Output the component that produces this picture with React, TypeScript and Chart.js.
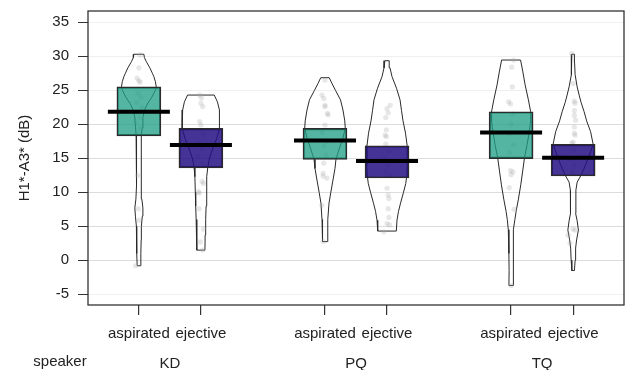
import React, { useEffect, useRef } from "react";
import Chart from "chart.js/auto";

// ---- data ----
const speakers = ["KD", "PQ", "TQ"];
const stopTypes = ["aspirated", "ejective"];
const groupPositions = [1, 2, 4, 5, 7, 8];
const speakerPositions = [1.5, 4.5, 7.5];
const yTicks = [-5, 0, 5, 10, 15, 20, 25, 30, 35];
const yTitle = "H1*-A3* (dB)";
const groupLabel = "speaker";

const means = [21.85, 16.95, 17.6, 14.6, 18.8, 15.1];
const bandLow = [18.3, 13.6, 14.85, 12.1, 14.95, 12.4];
const bandHigh = [25.5, 19.4, 19.4, 16.85, 21.85, 17.05];

// bean (density) profiles: [value, half width in category units]
const beanKDasp = [[-0.8,0.027],[1,0.032],[3,0.037],[5,0.04],[6.5,0.056],[7.7,0.065],[9,0.048],[11,0.037],[13,0.037],[15,0.037],[17,0.04],[18.3,0.045],[19.5,0.053],[21,0.065],[22.1,0.092],[23,0.137],[24,0.21],[25,0.266],[25.6,0.279],[26.3,0.266],[27,0.242],[27.5,0.218],[28.3,0.177],[29.2,0.121],[29.8,0.089],[30.3,0.081]];
const beanKDej = [[1.5,0.065],[3.7,0.068],[6,0.077],[8,0.084],[10,0.09],[12.3,0.097],[13.6,0.11],[15,0.137],[16.5,0.194],[18,0.258],[19.4,0.302],[20.5,0.303],[22.1,0.294],[23.3,0.266],[24.3,0.215]];
const beanPQasp = [[2.75,0.037],[4.5,0.042],[6,0.048],[8.4,0.065],[10,0.094],[11.8,0.129],[13.5,0.161],[14.85,0.177],[16.5,0.234],[18,0.29],[19.4,0.327],[20.5,0.319],[22.1,0.29],[23.6,0.25],[25,0.169],[26,0.113],[26.85,0.068]];
const beanPQej = [[4.3,0.15],[5.9,0.161],[7.2,0.185],[8.4,0.218],[10,0.266],[11.3,0.302],[12.5,0.319],[14,0.327],[15.5,0.327],[16.85,0.323],[18.7,0.298],[20.5,0.258],[22,0.234],[23.6,0.21],[25.3,0.153],[27,0.081],[28.3,0.048],[29.35,0.035]];
const beanTQasp = [[-3.7,0.035],[-1.5,0.032],[1,0.034],[3,0.037],[4.5,0.045],[6,0.061],[7.2,0.081],[9,0.118],[11.1,0.156],[13,0.185],[15,0.215],[17,0.258],[19,0.295],[20.5,0.315],[21.85,0.315],[23.6,0.279],[25.8,0.226],[27.7,0.19],[29.45,0.153]];
const beanTQej = [[-1.5,0.021],[0,0.032],[1.8,0.04],[3,0.056],[4.45,0.085],[5.8,0.065],[6.9,0.04],[8.6,0.045],[10.3,0.044],[11.5,0.065],[12.4,0.121],[13.5,0.177],[15,0.242],[17.05,0.323],[18.9,0.282],[20.5,0.218],[21.85,0.177],[23.2,0.129],[24.3,0.097],[25.5,0.065],[27.3,0.032],[29,0.024],[30.3,0.021]];
const beans = [beanKDasp, beanKDej, beanPQasp, beanPQej, beanTQasp, beanTQej];

const obsKDasp = [[30.2,0.02],[28.3,0],[26.8,-0.03],[26.4,0],[26.2,0.02],[24.6,-0.02],[24,0.03],[23.2,-0.04],[22.5,0.05],[21.8,-0.01],[21,0.03],[20.2,-0.05],[19.5,0.02],[18.8,-0.02],[12.5,-0.02],[7.6,-0.01],[5.9,0],[-0.8,-0.05]];
const obsKDej = [[24.3,-0.02],[23.9,0.01],[23.1,0],[22.6,0.03],[20.4,-0.02],[19.9,0],[18.5,0.04],[17.2,-0.03],[16.4,0.02],[15.3,-0.04],[14.2,0.03],[11.6,0.02],[11.3,0.04],[10.1,-0.04],[9.9,-0.03],[7.6,-0.03],[4.6,0.04],[2.7,-0.01],[1.5,0.03]];
const obsPQasp = [[26.5,0],[24.3,-0.05],[23.8,-0.02],[22.8,0],[22.6,0],[21.6,0.04],[21.4,0.05],[19.9,0],[18.8,-0.04],[17.5,0.03],[16.8,-0.02],[15.5,0.02],[14.3,-0.02],[12.8,-0.03],[12.4,-0.03],[12.1,0.03],[8.1,-0.05],[2.8,-0.03]];
const obsPQej = [[22.8,0.05],[22.3,0],[21.7,0.02],[21,-0.02],[19.2,-0.01],[18.4,-0.03],[18.2,-0.01],[17.1,-0.02],[16,0.03],[15,-0.04],[14,0.02],[13,-0.02],[12.5,0.04],[10.6,0],[9.6,0.02],[9.1,0.03],[7.6,0.02],[6.3,0.03],[5.4,0],[5.2,0.04],[4.2,-0.05]];
const obsTQasp = [[29.45,0.04],[28.4,0.01],[25.5,0.02],[23.3,-0.04],[23,-0.01],[21.5,0.03],[20,0],[18.6,-0.03],[17,0.04],[15.8,-0.02],[13.2,-0.01],[13,0.03],[12.6,0],[10.7,-0.03],[7.5,0.05],[-3.7,0]];
const obsTQej = [[30.4,-0.02],[26,0],[23.4,0.02],[23.1,0.03],[22,0.02],[21.3,0.02],[20.6,0.04],[19.6,0.02],[18.7,0.02],[18.4,0.03],[17.4,0],[17.2,-0.02],[16.2,0.01],[15,-0.03],[14,0.02],[13,-0.01],[4.6,0],[4.45,0.03],[3.7,-0.08],[2.5,-0.05]];
const observations = [obsKDasp, obsKDej, obsPQasp, obsPQej, obsTQasp, obsTQej];

const FONT = "'Liberation Sans', Arial, sans-serif";
const TEXT = "#222222";
const bandColors = ["rgba(30,158,133,0.76)", "rgba(37,16,131,0.85)"];

export default function App() {
  const ref = useRef<HTMLCanvasElement | null>(null);

  useEffect(() => {
    if (!ref.current) return;

    const tickLabels: string[] = groupPositions.map((_, i) => stopTypes[i % 2]);

    const beanDatasets = beans.map((bean, i) => {
      const c = groupPositions[i];
      const right = bean.map(([v, w]) => ({ x: c + w, y: v }));
      const left = bean.slice().reverse().map(([v, w]) => ({ x: c - w, y: v }));
      const pts = [...right, ...left, right[0]];
      return {
        type: "scatter" as const,
        data: pts,
        showLine: true,
        borderColor: "#2a2a2a",
        borderWidth: 1,
        pointRadius: 0,
        pointHoverRadius: 0,
        fill: false,
        tension: 0,
        order: 4,
      };
    });

    const pointData: { x: number; y: number }[] = [];
    observations.forEach((obs, i) => {
      obs.forEach(([v, j]) => pointData.push({ x: groupPositions[i] + j, y: v }));
    });

    const bandData = groupPositions.map((p, i) => ({ x: p, y: [bandLow[i], bandHigh[i]] }));
    const meanData = groupPositions.map((p, i) => ({ x: p, y: means[i] }));

    const extraText = {
      id: "extraText",
      afterDraw(chart: any) {
        const { ctx, chartArea } = chart;
        ctx.save();
        ctx.strokeStyle = "#333333";
        ctx.lineWidth = 1.3;
        ctx.strokeRect(chartArea.left, chartArea.top, chartArea.right - chartArea.left, chartArea.bottom - chartArea.top);
        ctx.fillStyle = TEXT;
        ctx.font = `15px ${FONT}`;
        ctx.textAlign = "center";
        ctx.textBaseline = "middle";
        ctx.fillText(groupLabel, chartArea.left - 28, chartArea.bottom + 57);
        ctx.restore();
      },
    };

    const chart = new Chart(ref.current, {
      type: "scatter",
      data: {
        datasets: [
          {
            type: "scatter",
            data: meanData,
            pointStyle: "line",
            pointRadius: 31,
            pointHoverRadius: 31,
            pointBorderWidth: 4,
            borderWidth: 4,
            borderColor: "#000000",
            backgroundColor: "#000000",
            order: 0,
          } as any,
          {
            type: "bar",
            data: bandData,
            backgroundColor: groupPositions.map((_, i) => bandColors[i % 2]),
            borderColor: "#2b2b2b",
            borderWidth: 1.5,
            borderSkipped: false,
            barThickness: 44,
            order: 1,
          } as any,
          {
            type: "scatter",
            data: pointData,
            pointRadius: 2.6,
            backgroundColor: "rgba(170,170,170,0.28)",
            borderWidth: 0,
            borderColor: "rgba(0,0,0,0)",
            order: 2,
          } as any,
          ...(beanDatasets as any[]),
        ],
      },
      options: {
        animation: false,
        responsive: false,
        devicePixelRatio: 1,
        layout: { autoPadding: false, padding: { top: 11, right: 3, left: 0, bottom: 0 } },
        plugins: { legend: { display: false }, tooltip: { enabled: false } },
        scales: {
          x: {
            type: "linear",
            position: "bottom",
            offset: false,
            weight: 0,
            min: 0.18,
            max: 8.82,
            afterBuildTicks: (s: any) => {
              s.ticks = groupPositions.map((v) => ({ value: v }));
            },
            afterFit: (s: any) => {
              s.height = 42;
              s.paddingLeft = 0;
              s.paddingRight = 0;
            },
            ticks: {
              autoSkip: false,
              maxRotation: 0,
              padding: 10,
              color: TEXT,
              font: { family: FONT, size: 15 },
              callback: (v: any) => {
                const idx = groupPositions.indexOf(Number(v));
                return idx >= 0 ? tickLabels[idx] : "";
              },
            },
            grid: { display: true, offset: false, drawOnChartArea: false, drawTicks: true, tickLength: 10, tickColor: "#333333", lineWidth: 1.2 },
            border: { display: false },
          },
          x2: {
            type: "linear",
            position: "bottom",
            offset: false,
            weight: 1,
            min: 0.18,
            max: 8.82,
            afterBuildTicks: (s: any) => {
              s.ticks = speakerPositions.map((v) => ({ value: v }));
            },
            afterFit: (s: any) => {
              s.height = 23;
              s.paddingLeft = 0;
              s.paddingRight = 0;
            },
            ticks: {
              autoSkip: false,
              maxRotation: 0,
              padding: 0,
              color: TEXT,
              font: { family: FONT, size: 15 },
              callback: (v: any) => {
                const idx = speakerPositions.indexOf(Number(v));
                return idx >= 0 ? speakers[idx] : "";
              },
            },
            grid: { display: false, offset: false },
            border: { display: false },
          },
          y: {
            type: "linear",
            position: "left",
            min: -6.57,
            max: 36.66,
            beginAtZero: false,
            afterBuildTicks: (s: any) => {
              s.ticks = yTicks.map((v) => ({ value: v }));
            },
            afterFit: (s: any) => {
              s.width = 88;
              s.paddingTop = 0;
              s.paddingBottom = 0;
            },
            ticks: {
              autoSkip: false,
              padding: 9,
              color: TEXT,
              font: { family: FONT, size: 15 },
              callback: (v: any) => String(v),
            },
            grid: {
              drawOnChartArea: true,
              drawTicks: true,
              tickLength: 10,
              tickColor: "#333333",
              lineWidth: 1,
              color: (c: any) => {
                const v = c.tick ? c.tick.value : 0;
                return v === 35 || v === 30 || v === 25 || v === -5 ? "#efefef" : "#dcdcdc";
              },
            },
            border: { display: false },
            title: {
              display: true,
              text: yTitle,
              color: TEXT,
              font: { family: FONT, size: 15 },
              padding: { top: 16, bottom: 0 },
            },
          },
        },
      } as any,
      plugins: [extraText],
    });

    return () => chart.destroy();
  }, []);

  return (
    <div style={{ position: "fixed", left: 0, top: 0, width: 627, height: 370, background: "#ffffff" }}>
      <canvas ref={ref} width={627} height={370} style={{ width: 627, height: 370, display: "block" }} />
    </div>
  );
}
